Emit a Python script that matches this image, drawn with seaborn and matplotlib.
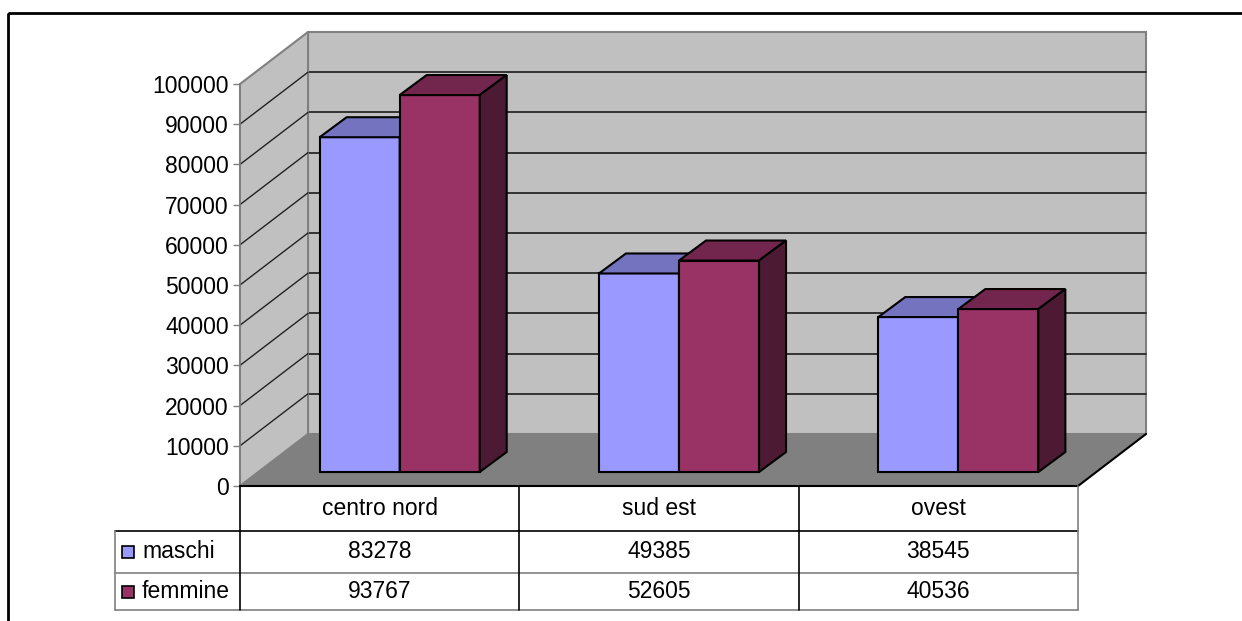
import pandas as pd
import seaborn as sns
import matplotlib.pyplot as plt
from matplotlib.patches import Polygon, Rectangle

# data
zone = ['centro nord', 'sud est', 'ovest']
serie = ['maschi', 'femmine']
maschi = [83278, 49385, 38545]
femmine = [93767, 52605, 40536]
yticks = list(range(0, 100001, 10000))

colori = {'maschi': '#9999FF', 'femmine': '#993366'}
colori_top = {'maschi': '#7373BF', 'femmine': '#73264D'}
colori_side = {'maschi': '#4D4D80', 'femmine': '#4C1A33'}

sns.set_theme(style='white')
plt.rcParams['font.family'] = ['Liberation Sans', 'DejaVu Sans']
plt.rcParams['text.color'] = 'black'
FS = 16.5

W, H = 1242, 621
fig = plt.figure(figsize=(W / 100, H / 100), dpi=100)

# front plane of the 3d box, in pixels
X0, X1, Y0, Y1 = 240, 1078, 486, 84
ax = fig.add_axes([X0 / W, (H - Y0) / H, (X1 - X0) / W, (Y0 - Y1) / H])

df = pd.DataFrame({
    'zona': zone * 2,
    'sesso': [serie[0]] * len(zone) + [serie[1]] * len(zone),
    'valore': maschi + femmine,
})
sns.barplot(data=df, x='zona', y='valore', hue='sesso', hue_order=serie,
            palette=colori, saturation=1, width=0.573, edgecolor='black',
            linewidth=1.5, legend=False, ax=ax)
bars = list(ax.patches)

YMAX = yticks[-1]
ax.set_xlim(-0.5, len(zone) - 0.5)
ax.set_ylim(0, YMAX)
sx = (X1 - X0) / len(zone)      # px per category
sy = (Y0 - Y1) / YMAX           # px per unit


def px(dx, dy):
    return dx / sx, dy / sy


WDx, WDy = px(68, 52)    # wall depth
BFx, BFy = px(20, 14)    # bar front position
BDx, BDy = px(27, 20)    # bar depth
xl, xr = -0.5, len(zone) - 0.5

# walls and floor
back = Polygon([(xl + WDx, WDy), (xr + WDx, WDy), (xr + WDx, YMAX + WDy), (xl + WDx, YMAX + WDy)],
               closed=True, fc='#C0C0C0', ec='#808080', lw=1.5, zorder=0.5, clip_on=False)
left = Polygon([(xl, 0), (xl + WDx, WDy), (xl + WDx, YMAX + WDy), (xl, YMAX)],
               closed=True, fc='#C0C0C0', ec='#808080', lw=1.5, zorder=0.6, clip_on=False)
floor = Polygon([(xl, 0), (xr, 0), (xr + WDx, WDy), (xl + WDx, WDy)],
                closed=True, fc='#808080', ec='none', zorder=1.1, clip_on=False)
for p in (back, left, floor):
    ax.add_patch(p)
for t in yticks[1:-1]:
    ax.plot([xl + WDx, xr + WDx], [t + WDy] * 2, color='#333333', lw=1.4, zorder=0.55, clip_on=False)
    ax.plot([xl, xl + WDx], [t, t + WDy], color='#222222', lw=1, zorder=0.7, clip_on=False)
ax.plot([xr, xr + WDx], [0, WDy], color='black', lw=1.5, zorder=1.2, clip_on=False)

# shift bars into depth and add top / side faces
for i, p in enumerate(bars):
    k = i // len(zone)
    s = serie[k]
    x0 = p.get_x() + BFx
    w = p.get_width()
    h = p.get_height()
    p.set_x(x0)
    p.set_y(BFy)
    p.set_zorder(3 + k)
    p.set_clip_on(False)
    top = Polygon([(x0, BFy + h), (x0 + w, BFy + h), (x0 + w + BDx, BFy + h + BDy), (x0 + BDx, BFy + h + BDy)],
                  closed=True, fc=colori_top[s], ec='black', lw=1.5, zorder=3.1 + k, clip_on=False)
    side = Polygon([(x0 + w, BFy), (x0 + w + BDx, BFy + BDy), (x0 + w + BDx, BFy + h + BDy), (x0 + w, BFy + h)],
                   closed=True, fc=colori_side[s], ec='black', lw=1.5, zorder=3.1 + k, clip_on=False)
    ax.add_patch(top)
    ax.add_patch(side)

ax.patch.set_visible(False)
ax.set_xticks([])
ax.set_xlabel('')
ax.set_ylabel('')
ax.set_yticks(yticks)
ax.set_yticklabels([str(t) for t in yticks])
ax.tick_params(axis='y', left=True, length=5, width=1, color='#808080', pad=3,
               labelsize=FS, labelcolor='black')
for side_name in ['top', 'right', 'bottom']:
    ax.spines[side_name].set_visible(False)
ax.spines['left'].set_color('#808080')
ax.spines['left'].set_linewidth(1.2)
ax.spines['left'].set_zorder(2)

# overlay in pixel coordinates: data table and border
ov = fig.add_axes([0, 0, 1, 1])
ov.set_xlim(0, W)
ov.set_ylim(H, 0)
ov.axis('off')

cols = [X0 + i * sx for i in range(len(zone) + 1)]
rows = [486, 531, 573, 610]
LX = 115
ov.plot([X0, X1], [rows[0]] * 2, color='black', lw=1.5)
ov.plot([LX, X1], [rows[1]] * 2, color='black', lw=1.2)
ov.plot([LX, X1], [rows[2]] * 2, color='#808080', lw=1.2)
ov.plot([LX, X1], [rows[3]] * 2, color='#808080', lw=1.2)
ov.plot([LX, LX], [rows[1], rows[3]], color='#808080', lw=1.2)
for c in cols[:-1]:
    ov.plot([c, c], [rows[0], rows[3]], color='black', lw=1.2)
ov.plot([cols[-1], cols[-1]], [rows[0], rows[3]], color='#808080', lw=1.2)

for j, z in enumerate(zone):
    cx = (cols[j] + cols[j + 1]) / 2
    ov.text(cx, (rows[0] + rows[1]) / 2, z, ha='center', va='center', fontsize=FS, color='black')
    ov.text(cx, (rows[1] + rows[2]) / 2, str(maschi[j]), ha='center', va='center', fontsize=FS, color='black')
    ov.text(cx, (rows[2] + rows[3]) / 2, str(femmine[j]), ha='center', va='center', fontsize=FS, color='black')

for k, s in enumerate(serie):
    cy = (rows[k + 1] + rows[k + 2]) / 2
    ov.add_patch(Rectangle((122, cy - 6), 12, 12, fc=colori[s], ec='black', lw=1.2))
    ov.text(142, cy, s, ha='left', va='center', fontsize=FS, color='black')

ov.add_patch(Rectangle((8, 13), 1400, 800, fill=False, ec='black', lw=2))

fig.savefig('out.png', dpi=100)
